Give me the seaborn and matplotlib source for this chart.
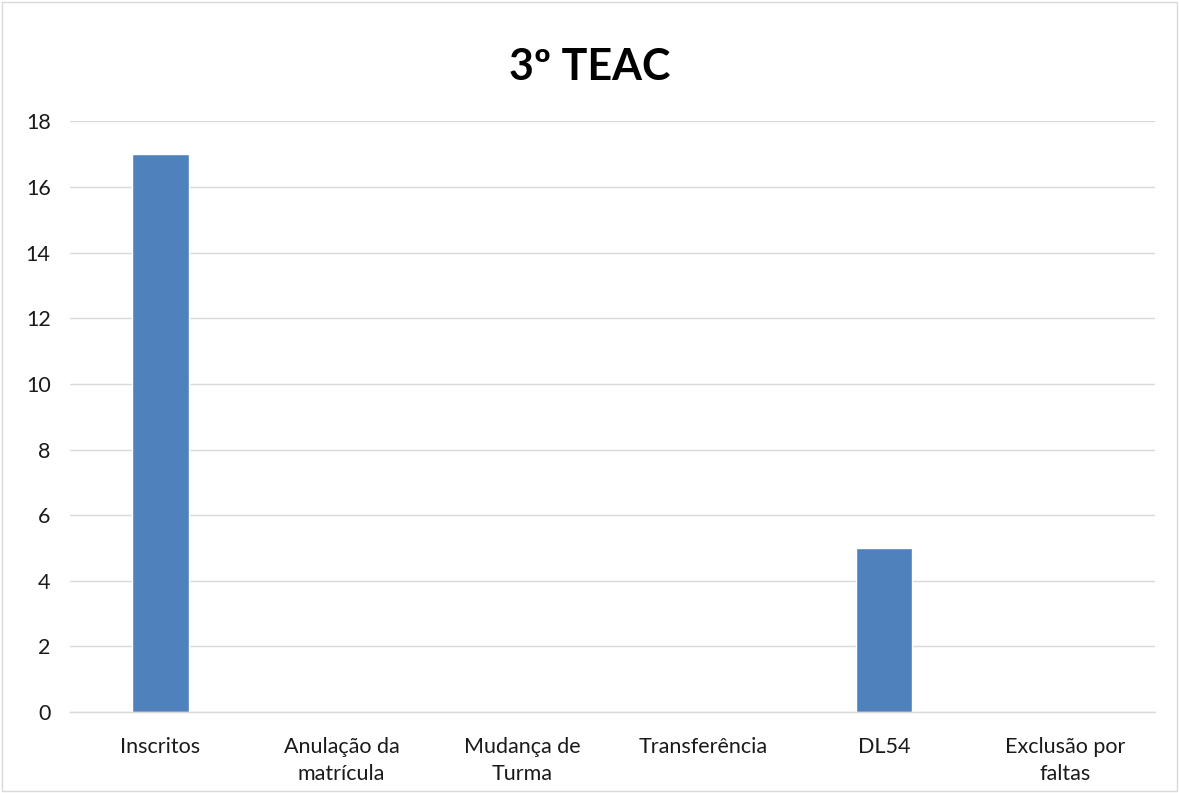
import matplotlib
matplotlib.use('Agg')
import matplotlib.pyplot as plt
import matplotlib.patches as mpatches
import pandas as pd
import seaborn as sns

# dados do gráfico
categorias = ['Inscritos', 'Anulação da\nmatrícula', 'Mudança de\nTurma',
              'Transferência', 'DL54', 'Exclusão por\nfaltas']
valores = [17, 0, 0, 0, 5, 0]
titulo = '3º TEAC'

df = pd.DataFrame({'categoria': categorias, 'valor': valores})

sns.set_style('white')
plt.rcParams['font.family'] = ['Lato', 'DejaVu Sans']

fig = plt.figure(figsize=(11.79, 7.93), dpi=100)
ax = fig.add_axes([0.0594, 0.102, 0.9206, 0.745])

sns.barplot(data=df, x='categoria', y='valor', color='#4F81BD', saturation=1,
            width=0.31, ax=ax)

ax.set_ylim(0, 18)
ax.set_yticks(range(0, 19, 2))
ax.set_xlim(-0.5, len(categorias) - 0.5)
ax.yaxis.grid(True, color='#D9D9D9', linewidth=1)
ax.set_axisbelow(True)
for s in ['top', 'right', 'left']:
    ax.spines[s].set_visible(False)
ax.spines['bottom'].set_color('#D9D9D9')
ax.spines['bottom'].set_linewidth(1)
ax.tick_params(axis='both', length=0, labelsize=15.5, colors='#1a1a1a')
ax.tick_params(axis='x', pad=18)
ax.tick_params(axis='y', pad=14)
for lbl in ax.get_xticklabels():
    lbl.set_linespacing(1.45)
ax.set_xlabel('')
ax.set_ylabel('')

fig.text(0.5, 0.915, titulo, ha='center', va='center', fontsize=31,
         fontweight='bold', color='black')

# moldura do gráfico
fig.patches.append(mpatches.Rectangle((0.002, 0.002), 0.996, 0.996,
                                      transform=fig.transFigure, fill=False,
                                      edgecolor='#D9D9D9', linewidth=1))

fig.savefig('out.png', dpi=100)
